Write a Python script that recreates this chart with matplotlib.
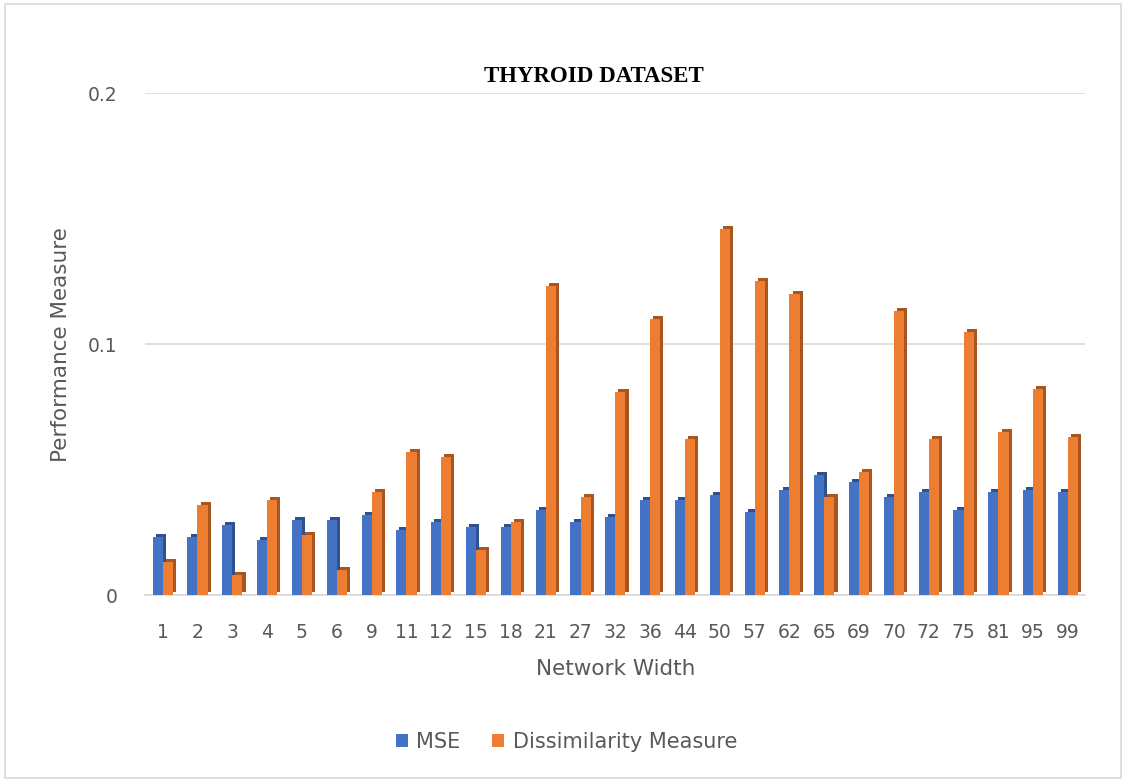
import matplotlib.pyplot as plt
from matplotlib.patches import Rectangle, Patch
import numpy as np

widths = ["1", "2", "3", "4", "5", "6", "9", "11", "12", "15", "18", "21", "27", "32",
          "36", "44", "50", "57", "62", "65", "69", "70", "72", "75", "81", "95", "99"]
mse = [0.023, 0.023, 0.028, 0.022, 0.030, 0.030, 0.032, 0.026, 0.029, 0.027, 0.027,
       0.034, 0.029, 0.031, 0.038, 0.038, 0.040, 0.033, 0.042, 0.048, 0.045, 0.039,
       0.041, 0.034, 0.041, 0.042, 0.041]
dissim = [0.013, 0.036, 0.008, 0.038, 0.024, 0.010, 0.041, 0.057, 0.055, 0.018, 0.029,
          0.123, 0.039, 0.081, 0.110, 0.062, 0.146, 0.125, 0.120, 0.039, 0.049, 0.113,
          0.062, 0.105, 0.065, 0.082, 0.063]

BLUE, BLUE_DK = "#4472C4", "#2F528F"
ORANGE, ORANGE_DK = "#ED7D31", "#A95520"
TXT = "#595959"

fig = plt.figure(figsize=(11.26, 7.82), dpi=100)
ax = fig.add_axes([0.129, 0.239, 0.835, 0.642])

x = np.arange(len(widths))
bw = 0.29
dx, dy = 0.09, 0.0012  # fake 3D depth offset

for vals, off, c, cdk in [(mse, -bw / 2, BLUE, BLUE_DK), (dissim, bw / 2, ORANGE, ORANGE_DK)]:
    # back/side face drawn first, slightly up and to the right
    ax.bar(x + off + dx, vals, bw, bottom=dy, color=cdk, zorder=2)
    ax.bar(x + off, vals, bw, color=c, zorder=3)

ax.set_xlim(-0.5, len(widths) - 0.5)
ax.set_ylim(0, 0.2)
ax.set_yticks([0, 0.1, 0.2])
ax.set_yticklabels(["0", "0.1", "0.2"])
ax.set_xticks(x)
ax.set_xticklabels(widths)
ax.tick_params(length=0, labelsize=13.5, colors=TXT)
ax.tick_params(axis="y", pad=20)
ax.tick_params(axis="x", pad=20)
ax.grid(axis="y", color="#D9D9D9", linewidth=1.2, zorder=0)
ax.set_axisbelow(True)
for s in ["top", "right", "left"]:
    ax.spines[s].set_visible(False)
ax.spines["bottom"].set_color("#D9D9D9")
ax.spines["bottom"].set_linewidth(1.2)

ax.set_ylabel("Performance Measure", fontsize=15.5, color=TXT, labelpad=12)
ax.set_xlabel("Network Width", fontsize=15.5, color=TXT, labelpad=12)
fig.text(0.527, 0.902, "THYROID DATASET", ha="center", va="center",
         fontsize=16.5, fontweight="bold", family="Liberation Serif", color="black")

handles = [Patch(facecolor=BLUE, label="MSE"),
           Patch(facecolor=ORANGE, label="Dissimilarity Measure")]
fig.legend(handles=handles, loc="center", bbox_to_anchor=(0.503, 0.051), ncol=2,
           frameon=False, fontsize=15, handlelength=0.6, handleheight=0.6,
           columnspacing=1.5, handletextpad=0.4, labelcolor=TXT)

fig.patches.append(Rectangle((0.004, 0.005), 0.992, 0.99, transform=fig.transFigure,
                             fill=False, edgecolor="#D9D9D9", linewidth=1.2))

fig.savefig("out.png", dpi=100)
